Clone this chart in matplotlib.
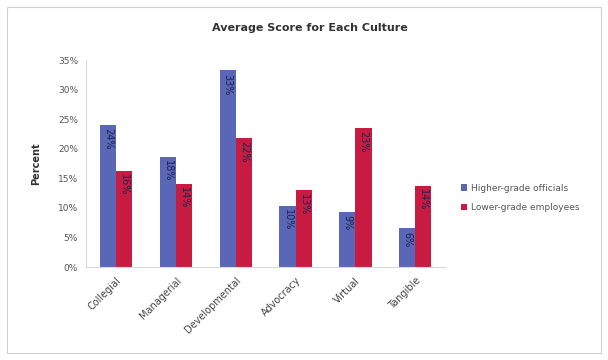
import matplotlib
matplotlib.use("Agg")
import matplotlib.pyplot as plt
from matplotlib.patches import Rectangle
import numpy as np

# values (percent)
cultures = ["Collegial", "Managerial", "Developmental", "Advocracy", "Virtual", "Tangible"]
higher = [24.1, 18.7, 33.3, 10.4, 9.4, 6.6]
lower = [16.3, 14.1, 21.9, 13.0, 23.6, 13.8]
higher_labels = ["24%", "18%", "33%", "10%", "9%", "6%"]
lower_labels = ["16%", "14%", "22%", "13%", "23%", "14%"]

blue = "#5a66b6"
red = "#c81b42"

fig = plt.figure(figsize=(6.08, 3.6), dpi=100)
fig.patches.append(Rectangle((0.012, 0.02), 0.976, 0.96, transform=fig.transFigure,
                             fill=False, edgecolor="#d0d0d0", lw=0.8))
ax = fig.add_axes([0.142, 0.258, 0.59, 0.575])

x = np.arange(len(cultures))
w = 0.27
b1 = ax.bar(x - w / 2, higher, w, color=blue, label="Higher-grade officials")
b2 = ax.bar(x + w / 2, lower, w, color=red, label="Lower-grade employees")

for bars, labs in [(b1, higher_labels), (b2, lower_labels)]:
    for r, lab in zip(bars, labs):
        ax.text(r.get_x() + r.get_width() / 2, r.get_height() - 0.6, lab,
                rotation=270, ha="center", va="top", fontsize=7, color="#1a2250")

ax.set_ylim(0, 35)
ax.set_xlim(-0.5, len(cultures) - 0.5)
ax.set_yticks(range(0, 36, 5))
ax.set_yticklabels([f"{v}%" for v in range(0, 36, 5)], fontsize=6.5, color="#555555")
ax.set_xticks(x)
ax.set_xticklabels(cultures, rotation=45, ha="right", rotation_mode="anchor",
                   fontsize=7, color="#444444")
ax.tick_params(axis="both", length=0, pad=6)
for s in ["top", "right"]:
    ax.spines[s].set_visible(False)
ax.spines["left"].set_color("#d8d8d8")
ax.spines["bottom"].set_color("#d8d8d8")

ax.set_ylabel("Percent", fontsize=7, fontweight="bold", color="#333333", labelpad=12)
fig.text(0.51, 0.915, "Average Score for Each Culture", ha="center", fontsize=8,
         fontweight="bold", color="#333333")

fig.legend(loc="center left", bbox_to_anchor=(0.745, 0.45), frameon=False,
           fontsize=6.5, handlelength=0.7, handleheight=0.7, handletextpad=0.4,
           labelspacing=1.2, labelcolor="#555555")

fig.savefig("out.png", dpi=100, facecolor="white")
